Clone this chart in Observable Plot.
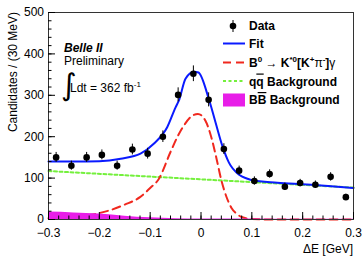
<!DOCTYPE html>
<html><head><meta charset="utf-8">
<script src="https://cdn.jsdelivr.net/npm/d3@7"></script>
<script src="https://cdn.jsdelivr.net/npm/@observablehq/plot@0.6"></script>
<style>
body{margin:0;background:#fff}
#chart{position:relative;width:362px;height:256px;overflow:hidden}
</style>
</head><body><div id="chart"></div>
<script>
// ---- data ----
const binCenters = [-0.285,-0.255,-0.225,-0.195,-0.165,-0.135,-0.105,-0.075,-0.045,-0.015,0.015,0.045,0.075,0.105,0.135,0.165,0.195,0.225,0.255,0.285];
const counts     = [150,130,150,156,130,169,159,200,301,352,289,170,118,93,110,79,88,84,103,54];
const countErrs  = [12,11,12,12,11,13,13,14,17,19,17,13,11,10,10,9,9,9,10,7];

const fitX = [-0.3,-0.25,-0.2,-0.158,-0.119,-0.093,-0.0665,-0.05,-0.0436,-0.0305,-0.014,-0.005,0.0154,0.0285,0.0417,0.0547,0.075,0.09,0.1,0.15,0.2,0.25,0.3];
const fitY = [140,140,141,147,159,183,223,271,287,340,357,355,291,235,179,138,108,99,95,89,85,81,76];

const sigX = [-0.3,-0.25,-0.21,-0.18,-0.15,-0.12,-0.1,-0.083,-0.06,-0.045,-0.032,-0.02,-0.006,0.009,0.02,0.03,0.04,0.05,0.06,0.07,0.08,0.1,0.15,0.2,0.25,0.3];
const sigY = [3,7,13,22,36,54,76,98,163,203,230,248,255,238,200,150,95,55,28,14,6,1,0,0,0,0];

const qqX = [-0.3,0,0.3];
const qqY = [117,97,77];

const bbX = [-0.3,-0.25,-0.2,-0.15,-0.1,-0.05,0,0.1,0.2,0.3];
const bbY = [18,16,13,8,4,2,1.5,1,0.5,0.5];

const xTicks = [-0.3,-0.2,-0.1,0,0.1,0.2,0.3];
const xTickLabels = ["−0.3","−0.2","−0.1","0","0.1","0.2","0.3"];
const yTicks = [0,100,200,300,400,500];
const xMinor = d3.range(-30,31,2).map(v=>v/100);
const yMinor = d3.range(0,501,20);

const points = binCenters.map((x,i)=>({x, y:counts[i], e:countErrs[i]}));
const fit = fitX.map((x,i)=>({x, y:fitY[i]}));
const sig = sigX.map((x,i)=>({x, y:sigY[i]}));
const qq = qqX.map((x,i)=>({x, y:qqY[i]}));
const bb = bbX.map((x,i)=>({x, y:bbY[i]}));

const FONT = "'Liberation Sans', Arial, Helvetica, sans-serif";

const plot = Plot.plot({
  width: 362, height: 256,
  marginLeft: 48, marginRight: 9, marginTop: 12, marginBottom: 37,
  style: {fontFamily: FONT, fontSize: "12px", background: "white", color: "black", overflow: "visible"},
  x: {domain: [-0.3, 0.3]},
  y: {domain: [0, 500]},
  marks: [
    Plot.line(qq, {x:"x", y:"y", stroke:"#74f03c", strokeWidth:2, strokeDasharray:"3,2.5"}),
    Plot.line(sig, {x:"x", y:"y", stroke:"#f0281e", strokeWidth:2, strokeDasharray:"8,5", curve:"monotone-x"}),
    Plot.areaY(bb, {x:"x", y:"y", fill:"#e81ee8", curve:"monotone-x"}),
    Plot.line(fit, {x:"x", y:"y", stroke:"#0a1aff", strokeWidth:2, curve:"monotone-x"}),
    Plot.ruleX(points, {x:"x", y1:d=>d.y-d.e, y2:d=>d.y+d.e, stroke:"black", strokeWidth:1}),
    Plot.dot(points, {x:"x", y:"y", r:3.3, fill:"black", stroke:null}),
    Plot.frame({stroke:"#333", strokeWidth:1}),
    Plot.axisX({ticks: xTicks, tickSize: 0, tickPadding: 9, label: null, fontSize: 12,
      tickFormat: d => xTickLabels[xTicks.indexOf(d)]}),
    Plot.axisX({ticks: xTicks, tickSize: -7, text: null, label: null}),
    Plot.axisX({ticks: xMinor, tickSize: -3.5, text: null, label: null}),
    Plot.axisY({ticks: yTicks, tickSize: 0, tickPadding: 4.5, label: null, fontSize: 12}),
    Plot.axisY({ticks: yTicks, tickSize: -7, text: null, label: null}),
    Plot.axisY({ticks: yMinor, tickSize: -3.5, text: null, label: null})
  ]
});
document.getElementById("chart").appendChild(plot);

// ---- annotations, titles and legend ----
const svg = d3.select(plot);
const g = svg.append("g").attr("font-family", FONT).attr("fill", "black").attr("text-anchor","start");

g.append("text").attr("transform","translate(17,12) rotate(-90)").attr("text-anchor","end")
  .attr("font-size",12).text("Candidates / (30 MeV)");
g.append("text").attr("x",353).attr("y",253).attr("text-anchor","end")
  .attr("font-size",12).text("ΔE [GeV]");

g.append("text").attr("x",64).attr("y",52).attr("font-size",12)
  .attr("font-weight","bold").attr("font-style","italic").text("Belle II");
g.append("text").attr("x",64).attr("y",64.5).attr("font-size",12).text("Preliminary");
g.append("text").attr("x",61).attr("y",95).attr("font-size",30)
  .attr("font-family","'DejaVu Sans', sans-serif").text("∫");
const lum = g.append("text").attr("x",70).attr("y",91.5).attr("font-size",12);
lum.append("tspan").text("Ldt = 362 fb");
lum.append("tspan").attr("dy",-5).attr("font-size",8).text("-1");

// legend
const L = g.append("g").attr("font-size",12).attr("font-weight","bold");
const sx1 = 223, sx2 = 245, tx = 249;
// Data
L.append("line").attr("x1",233).attr("x2",233).attr("y1",20).attr("y2",32).attr("stroke","black");
L.append("circle").attr("cx",233).attr("cy",26).attr("r",3.3).attr("fill","black");
L.append("text").attr("x",tx).attr("y",30).text("Data");
// Fit
L.append("line").attr("x1",sx1).attr("x2",sx2).attr("y1",43.5).attr("y2",43.5).attr("stroke","#0a1aff").attr("stroke-width",2);
L.append("text").attr("x",tx).attr("y",48).text("Fit");
// Signal
L.append("line").attr("x1",sx1).attr("x2",sx2).attr("y1",62.5).attr("y2",62.5).attr("stroke","#f0281e").attr("stroke-width",2).attr("stroke-dasharray","8,5");
const s = L.append("text").attr("x",tx).attr("y",67);
s.append("tspan").text("B");
s.append("tspan").attr("dy",-5).attr("font-size",8).text("0");
s.append("tspan").attr("dy",5).attr("font-weight","normal").text(" → ");
s.append("tspan").text("K");
s.append("tspan").attr("dy",-5).attr("font-size",8).text("*0");
s.append("tspan").attr("dy",5).text("[K");
s.append("tspan").attr("dy",-5).attr("font-size",8).text("+");
s.append("tspan").attr("dy",5).attr("font-weight","normal").text("π");
s.append("tspan").attr("dy",-5).attr("font-size",8).text("-");
s.append("tspan").attr("dy",5).text("]");
s.append("tspan").attr("font-weight","normal").text("γ");
// qq background
L.append("line").attr("x1",sx1).attr("x2",sx2).attr("y1",81).attr("y2",81).attr("stroke","#74f03c").attr("stroke-width",2).attr("stroke-dasharray","3,2.5");
const q = L.append("text").attr("x",tx).attr("y",85.5);
q.append("tspan").text("q");
q.append("tspan").style("text-decoration","overline").text("q");
q.append("tspan").text(" Background");
// BB background
L.append("rect").attr("x",sx1).attr("y",93.5).attr("width",sx2-sx1).attr("height",13).attr("fill","#e81ee8");
const b = L.append("text").attr("x",tx).attr("y",104);
b.append("tspan").text("B");
b.append("tspan").style("text-decoration","overline").text("B");
b.append("tspan").text(" Background");
</script>
</body></html>
